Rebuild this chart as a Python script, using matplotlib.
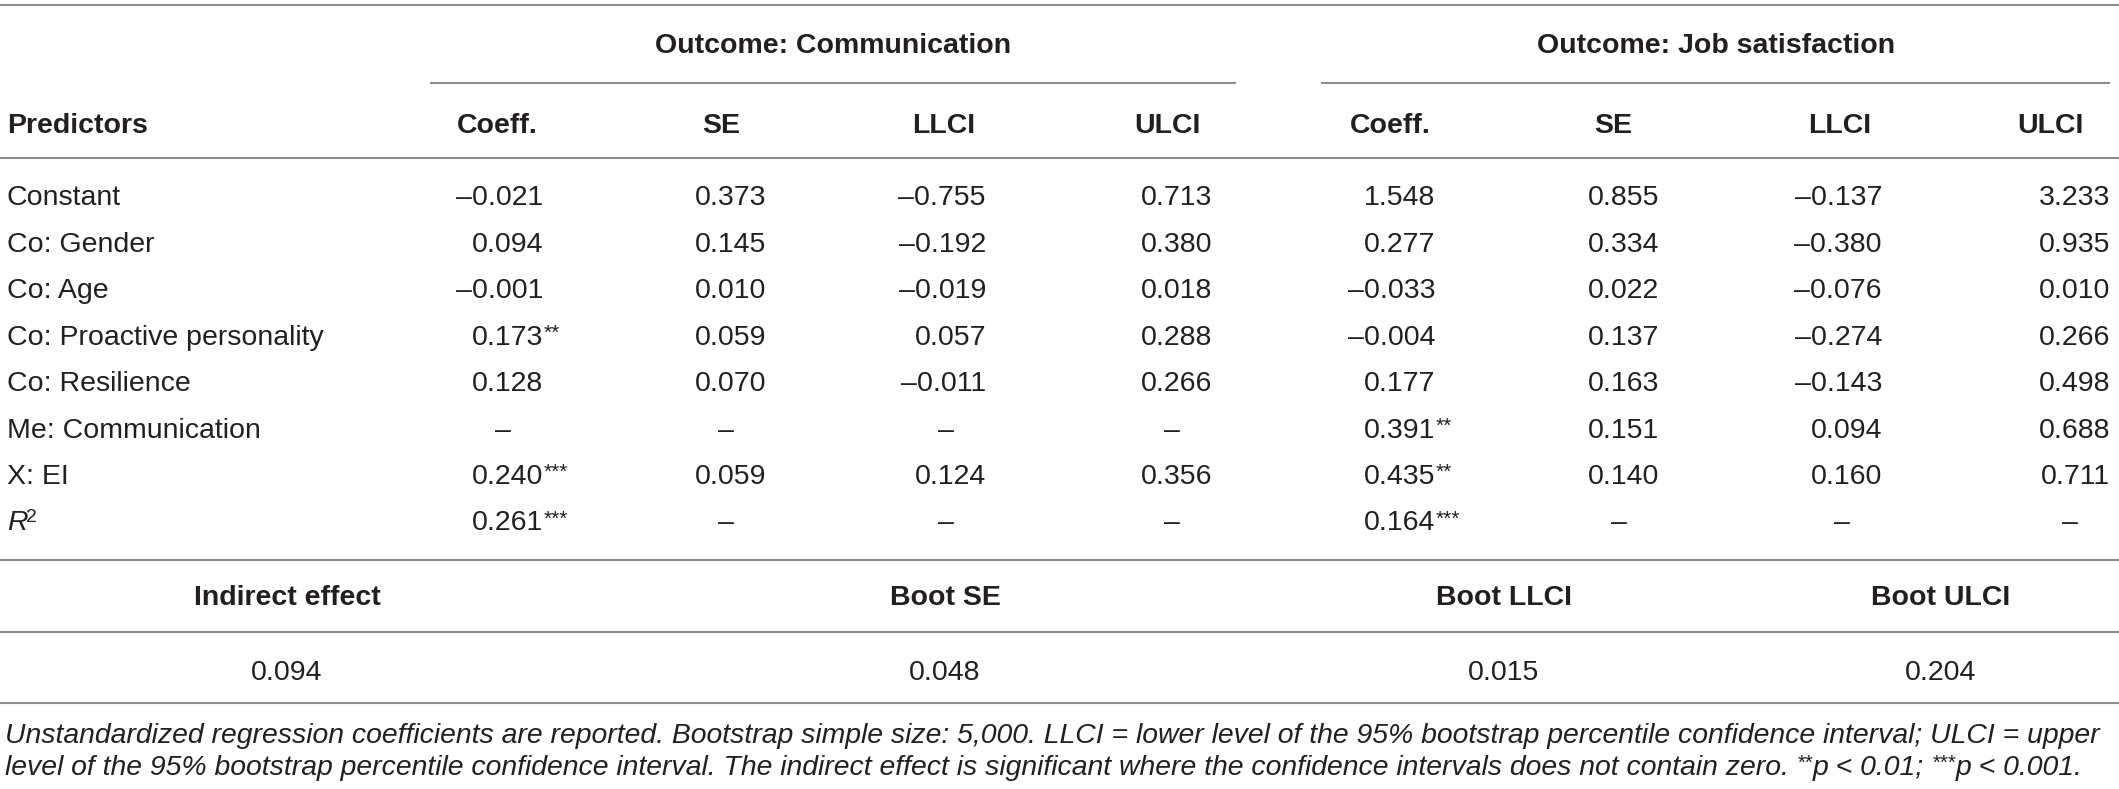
import matplotlib.pyplot as plt

# table content
predictors = ["Constant", "Co: Gender", "Co: Age", "Co: Proactive personality",
              "Co: Resilience", "Me: Communication", "X: EI", "R2"]
col_heads = ["Coeff.", "SE", "LLCI", "ULCI"]

comm_coef = [-0.021, 0.094, -0.001, 0.173, 0.128, None, 0.240, 0.261]
comm_stars = ["", "", "", "**", "", "", "***", "***"]
comm_se = [0.373, 0.145, 0.010, 0.059, 0.070, None, 0.059, None]
comm_llci = [-0.755, -0.192, -0.019, 0.057, -0.011, None, 0.124, None]
comm_ulci = [0.713, 0.380, 0.018, 0.288, 0.266, None, 0.356, None]

job_coef = [1.548, 0.277, -0.033, -0.004, 0.177, 0.391, 0.435, 0.164]
job_stars = ["", "", "", "", "", "**", "**", "***"]
job_se = [0.855, 0.334, 0.022, 0.137, 0.163, 0.151, 0.140, None]
job_llci = [-0.137, -0.380, -0.076, -0.274, -0.143, 0.094, 0.160, None]
job_ulci = [3.233, 0.935, 0.010, 0.266, 0.498, 0.688, 0.711, None]

ind_heads = ["Indirect effect", "Boot SE", "Boot LLCI", "Boot ULCI"]
ind_vals = [0.094, 0.048, 0.015, 0.204]

note1 = ("Unstandardized regression coefficients are reported. Bootstrap simple size: 5,000. "
         "LLCI = lower level of the 95% bootstrap percentile confidence interval; ULCI = upper")
note2 = [("level of the 95% bootstrap percentile confidence interval. The indirect effect is "
          "significant where the confidence intervals does not contain zero. ", False),
         ("**", True), ("p < 0.01; ", False), ("***", True), ("p < 0.001.", False)]

W, H = 2119, 789
FONT = "Liberation Sans"
INK = "#231f20"
RULE = "#8c8c8c"
FS = 20.5
HALF_CAP = 10

fig = plt.figure(figsize=(W / 100, H / 100), dpi=100)
ax = fig.add_axes([0, 0, 1, 1])
ax.set_xlim(0, W)
ax.set_ylim(H, 0)
ax.axis("off")


def hline(y, x0=0, x1=W):
    ax.plot([x0, x1], [y, y], color=RULE, lw=1.5, solid_capstyle="butt")


def put(x, y, s, ha="left", bold=False, italic=False, size=FS, raise_=0):
    return ax.text(x, y + HALF_CAP - raise_, s, ha=ha, va="baseline", color=INK,
                   family=FONT, size=size, fontweight="bold" if bold else "normal",
                   fontstyle="italic" if italic else "normal")


def fmt(v):
    return f"{v:.3f}".replace("-", "\u2013")


# rules
hline(5)
hline(83, 430, 1236)
hline(83, 1321, 2110)
hline(158)
hline(560)
hline(632)
hline(703)

# group headers
put(833, 43, "Outcome: Communication", ha="center", bold=True)
put(1716, 43, "Outcome: Job satisfaction", ha="center", bold=True)

# column headers
put(7, 123, "Predictors", bold=True)
head_x = [497, 721, 944, 1167, 1390, 1613, 1840, 2050]
for x, h in zip(head_x, col_heads * 2):
    put(x, 123, h, ha="center", bold=True)

# body
row_y = [195 + 46.5 * i for i in range(len(predictors))]
right_x = [543, 766, 986, 1212, 1435, 1659, 1882, 2110]
columns = [comm_coef, comm_se, comm_llci, comm_ulci, job_coef, job_se, job_llci, job_ulci]
stars = {0: comm_stars, 4: job_stars}

for i, (name, y) in enumerate(zip(predictors, row_y)):
    if name == "R2":
        put(7, y, "R", italic=True)
        put(26, y, "2", size=14, raise_=8)
    else:
        put(7, y, name)
    for j, col in enumerate(columns):
        v = col[i]
        if v is None:
            put(right_x[j] - 40, y, "\u2013", ha="center")
            continue
        put(right_x[j], y, fmt(v), ha="right")
        if j in stars and stars[j][i]:
            put(right_x[j] + 1, y, stars[j][i], size=15, raise_=6)

# indirect effect block
ind_x = [287, 945, 1504, 1941]
for x, h, v in zip(ind_x, ind_heads, ind_vals):
    put(x, 595, h, ha="center", bold=True)
    put(x, 670, fmt(v), ha="center")

# footnote, sized to span the table width
fig.canvas.draw()
rend = fig.canvas.get_renderer()
t1 = put(5, 733, note1, italic=True)
w1 = t1.get_window_extent(rend).width
nfs = FS * 2101 / w1
t1.set_fontsize(nfs)

x = 5
for s, sup in note2:
    t = put(x, 765, s, italic=True, size=nfs * (0.72 if sup else 1), raise_=6 if sup else 0)
    x += t.get_window_extent(rend).width

fig.savefig("out.png", dpi=100)
